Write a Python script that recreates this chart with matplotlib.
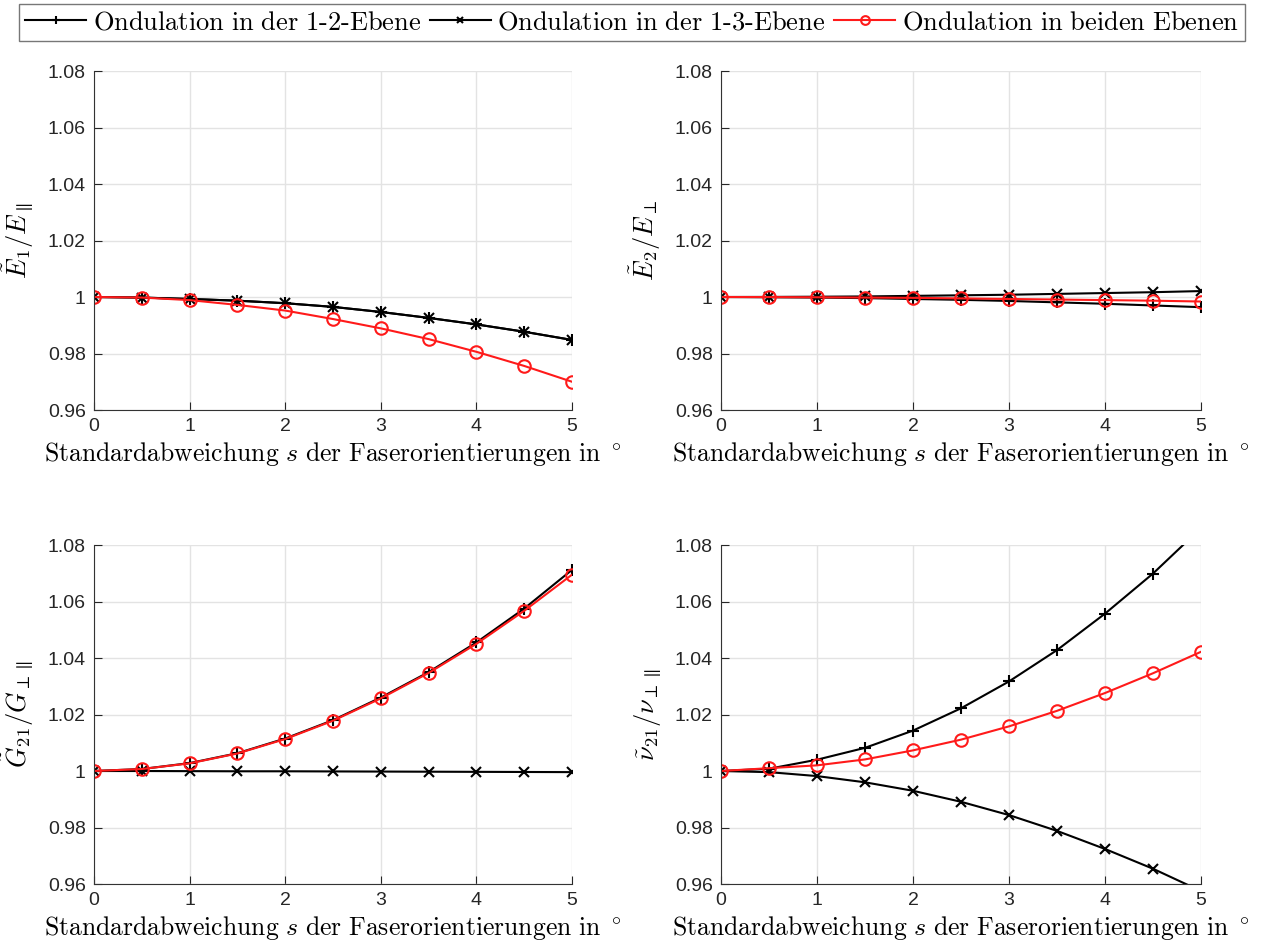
import matplotlib
matplotlib.use('Agg')
import matplotlib.pyplot as plt
import numpy as np

# ------------------------- Daten -------------------------
s = [0, 0.5, 1, 1.5, 2, 2.5, 3, 3.5, 4, 4.5, 5]

# E1 / E_par
e1_12 = [1, 0.9998, 0.9993, 0.9987, 0.9978, 0.9965, 0.9947, 0.9926, 0.9903, 0.9877, 0.9848]
e1_13 = [1, 0.9998, 0.9993, 0.9987, 0.9978, 0.9965, 0.9947, 0.9926, 0.9903, 0.9877, 0.9848]
e1_both = [1, 0.9998, 0.9989, 0.9972, 0.9952, 0.9922, 0.9889, 0.9851, 0.9806, 0.9756, 0.9700]

# E2 / E_perp
e2_12 = [1, 0.9999, 0.9998, 0.9996, 0.9993, 0.9990, 0.9986, 0.9981, 0.9976, 0.9970, 0.9964]
e2_13 = [1, 1.00003, 1.0001, 1.0002, 1.0004, 1.0006, 1.0008, 1.0011, 1.0014, 1.0017, 1.0021]
e2_both = [1, 0.99998, 0.9999, 0.9998, 0.9997, 0.9995, 0.9993, 0.9991, 0.9989, 0.9987, 0.9984]

# G21 / G_perp_par
g_12 = [1, 1.0007, 1.0028, 1.0063, 1.0115, 1.0180, 1.0260, 1.0350, 1.0455, 1.0575, 1.0712]
g_13 = [1, 1.0, 0.99995, 0.9999, 0.9999, 0.99985, 0.9998, 0.99975, 0.9997, 0.99965, 0.9996]
g_both = [1, 1.0007, 1.0027, 1.0062, 1.0113, 1.0178, 1.0257, 1.0347, 1.0450, 1.0567, 1.0695]

# nu21 / nu_perp_par
nu_12 = [1, 1.0008, 1.0040, 1.0082, 1.0143, 1.0222, 1.0317, 1.0428, 1.0557, 1.0699, 1.0860]
nu_13 = [1, 0.9996, 0.9982, 0.9960, 0.9930, 0.9891, 0.9844, 0.9788, 0.9724, 0.9654, 0.9575]
nu_both = [1, 1.0010, 1.0020, 1.0041, 1.0073, 1.0111, 1.0158, 1.0213, 1.0276, 1.0346, 1.0422]

ylabels = [r'$\tilde{E}_1/E_{\parallel}$', r'$\tilde{E}_2/E_{\perp}$',
           r'$\tilde{G}_{21}/G_{\perp\parallel}$', r'$\tilde{\nu}_{21}/\nu_{\perp\parallel}$']
xlabel = r'$\mathrm{Standardabweichung}\ s\ \mathrm{der\ Faserorientierungen\ in}\ ^\circ$'
legend_labels = [r'$\mathrm{Ondulation\ in\ der\ 1\text{-}2\text{-}Ebene}$',
                 r'$\mathrm{Ondulation\ in\ der\ 1\text{-}3\text{-}Ebene}$',
                 r'$\mathrm{Ondulation\ in\ beiden\ Ebenen}$']

# ------------------------- Plot -------------------------
plt.rcParams['mathtext.fontset'] = 'cm'
plt.rcParams['font.family'] = ['Liberation Sans', 'DejaVu Sans']

fig = plt.figure(figsize=(12.64, 9.46), dpi=100)
positions = [
    [94 / 1264, 1 - 410 / 946, 478 / 1264, 339 / 946],
    [721 / 1264, 1 - 410 / 946, 480 / 1264, 339 / 946],
    [94 / 1264, 1 - 884 / 946, 478 / 1264, 339 / 946],
    [721 / 1264, 1 - 884 / 946, 480 / 1264, 339 / 946],
]
datasets = [(e1_12, e1_13, e1_both), (e2_12, e2_13, e2_both),
            (g_12, g_13, g_both), (nu_12, nu_13, nu_both)]

handles = None
for pos, (d12, d13, dboth), ylab in zip(positions, datasets, ylabels):
    ax = fig.add_axes(pos)
    h1, = ax.plot(s, d12, color='black', marker='+', markersize=9, mew=1.5, lw=1.5)
    h2, = ax.plot(s, d13, color='black', marker='x', markersize=6.5, mew=1.5, lw=1.5)
    h3, = ax.plot(s, dboth, color='#ff1a1a', marker='o', markersize=9, mfc='none',
                  mew=1.5, lw=1.5)
    handles = [h1, h2, h3]
    ax.set_xlim(0, 5)
    ax.set_ylim(0.96, 1.08)
    ax.set_xticks([0, 1, 2, 3, 4, 5])
    ax.set_yticks([0.96, 0.98, 1.0, 1.02, 1.04, 1.06, 1.08])
    ax.set_yticklabels(['0.96', '0.98', '1', '1.02', '1.04', '1.06', '1.08'])
    ax.grid(True, color='#e3e3e3', lw=1)
    ax.set_axisbelow(True)
    for sp in ['top', 'right']:
        ax.spines[sp].set_visible(False)
    for sp in ['left', 'bottom']:
        ax.spines[sp].set_color('#333333')
    ax.tick_params(direction='in', labelsize=14, length=6, colors='#262626', pad=6)
    ax.set_xlabel(xlabel, fontsize=18.5, labelpad=3)
    ax.set_ylabel(ylab, fontsize=19, labelpad=8)

fig.legend(handles, legend_labels, loc='upper center', bbox_to_anchor=(0.5, 1.0),
           ncol=3, fontsize=19, frameon=True, fancybox=False, edgecolor='#555555',
           handlelength=2.3, handletextpad=0.25, columnspacing=0.35, markerscale=0.7,
           borderpad=0.25, borderaxespad=0.15)

fig.savefig('out.png', dpi=100)
